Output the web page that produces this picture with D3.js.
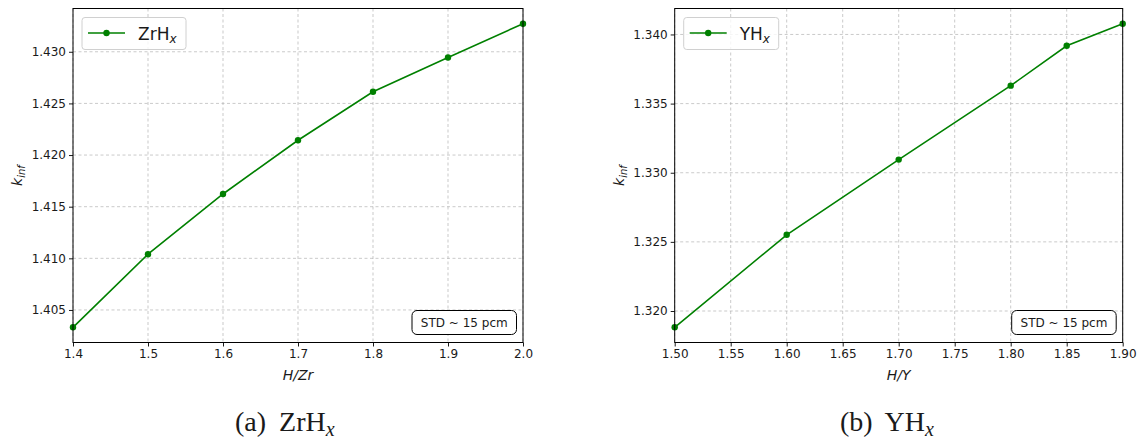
<!DOCTYPE html>
<html>
<head>
<meta charset="utf-8">
<script src="https://cdn.jsdelivr.net/npm/d3@7"></script>
<style>
  html, body { margin: 0; padding: 0; background: #fff; }
  svg { display: block; }
  text { font-family: "DejaVu Sans", sans-serif; fill: #1a1a1a; }
</style>
</head>
<body>
<svg id="fig" width="1141" height="439"></svg>
<script>
// ZrHx: multiplication factor vs hydrogen-to-zirconium ratio
const zrRatio = [1.4, 1.5, 1.6, 1.7, 1.8, 1.9, 2.0];
const zrKinf  = [1.40332, 1.41040, 1.41623, 1.42143, 1.42613, 1.42945, 1.43272];
const zrXTicks = [1.4, 1.5, 1.6, 1.7, 1.8, 1.9, 2.0];
const zrYTicks = [1.405, 1.410, 1.415, 1.420, 1.425, 1.430];

// YHx: multiplication factor vs hydrogen-to-yttrium ratio
const yRatio = [1.50, 1.60, 1.70, 1.80, 1.85, 1.90];
const yKinf  = [1.31882, 1.32551, 1.33095, 1.33630, 1.33918, 1.34078];
const yXTicks = [1.50, 1.55, 1.60, 1.65, 1.70, 1.75, 1.80, 1.85, 1.90];
const yYTicks = [1.320, 1.325, 1.330, 1.335, 1.340];

const svg = d3.select("#fig");
const GREEN = "#008000";

function panel(cfg) {
  const g = svg.append("g");
  const x = d3.scaleLinear().domain(cfg.xDomain).range([cfg.left, cfg.right]);
  const ext = d3.extent(cfg.ys);
  const pad = (ext[1] - ext[0]) * 0.05;
  const y = d3.scaleLinear().domain([ext[0] - pad, ext[1] + pad]).range([cfg.bottom, cfg.top]);

  // dashed grid
  const grid = g.append("g").attr("stroke", "#b0b0b0").attr("stroke-width", 0.8)
    .attr("stroke-dasharray", "3,2.5").attr("stroke-opacity", 0.85);
  cfg.xTicks.forEach(t => grid.append("line")
    .attr("x1", x(t)).attr("x2", x(t)).attr("y1", cfg.top).attr("y2", cfg.bottom));
  cfg.yTicks.forEach(t => grid.append("line")
    .attr("x1", cfg.left).attr("x2", cfg.right).attr("y1", y(t)).attr("y2", y(t)));

  // series
  const pts = cfg.xs.map((v, i) => [v, cfg.ys[i]]);
  g.append("path").datum(pts)
    .attr("fill", "none").attr("stroke", GREEN).attr("stroke-width", 1.6)
    .attr("d", d3.line().x(d => x(d[0])).y(d => y(d[1])));
  g.selectAll("circle.pt").data(pts).enter().append("circle")
    .attr("cx", d => x(d[0])).attr("cy", d => y(d[1])).attr("r", 3.2)
    .attr("fill", GREEN);

  // axes
  const xAxis = d3.axisBottom(x).tickValues(cfg.xTicks).tickFormat(d3.format(cfg.xFmt))
    .tickSizeInner(4).tickSizeOuter(0).tickPadding(3);
  const yAxis = d3.axisLeft(y).tickValues(cfg.yTicks).tickFormat(d3.format(".3f"))
    .tickSizeInner(4).tickSizeOuter(0).tickPadding(3);
  const ax = g.append("g").attr("transform", `translate(0,${cfg.bottom})`).call(xAxis);
  const ay = g.append("g").attr("transform", `translate(${cfg.left},0)`).call(yAxis);
  [ax, ay].forEach(a => {
    a.select(".domain").remove();
    a.selectAll("text").style("font-family", "DejaVu Sans").style("font-size", "12px").attr("fill", "#1a1a1a");
    a.selectAll("line").attr("stroke", "#000").attr("stroke-width", 0.9);
  });

  // frame
  g.append("rect").attr("x", cfg.left).attr("y", cfg.top)
    .attr("width", cfg.right - cfg.left).attr("height", cfg.bottom - cfg.top)
    .attr("fill", "none").attr("stroke", "#000").attr("stroke-width", 1);

  // axis labels
  const xl = g.append("text").attr("x", (cfg.left + cfg.right) / 2).attr("y", 380)
    .attr("text-anchor", "middle").style("font-size", "14px").style("font-style", "italic");
  xl.text(cfg.xLabel);
  const yl = g.append("text")
    .attr("transform", `translate(${cfg.left - 51},${(cfg.top + cfg.bottom) / 2}) rotate(-90)`)
    .attr("text-anchor", "middle").style("font-size", "14px").style("font-style", "italic");
  yl.append("tspan").text("k");
  yl.append("tspan").attr("dy", 3).style("font-size", "10px").text("inf");

  // legend
  const lg = g.append("g").attr("transform", `translate(${cfg.left + 9},${cfg.top + 9})`);
  lg.append("rect").attr("width", cfg.legendW).attr("height", 32).attr("rx", 3)
    .attr("fill", "#fff").attr("fill-opacity", 0.8).attr("stroke", "#d0d0d0");
  lg.append("line").attr("x1", 6).attr("x2", 43).attr("y1", 15.5).attr("y2", 15.5)
    .attr("stroke", GREEN).attr("stroke-width", 1.6);
  lg.append("circle").attr("cx", 24.5).attr("cy", 15.5).attr("r", 3.2).attr("fill", GREEN);
  const lt = lg.append("text").attr("x", 56).attr("y", 22).style("font-size", "17px");
  lt.append("tspan").text(cfg.name);
  lt.append("tspan").attr("dy", 3).style("font-size", "12px").style("font-style", "italic").text("x");

  // note box
  const nb = g.append("g").attr("transform", `translate(${cfg.right - 111},${cfg.bottom - 32})`);
  nb.append("rect").attr("width", 104.5).attr("height", 24).attr("rx", 5)
    .attr("fill", "#fff").attr("stroke", "#000").attr("stroke-width", 1);
  nb.append("text").attr("x", 52.25).attr("y", 16.5).attr("text-anchor", "middle")
    .style("font-size", "12px").text("STD ~ 15 pcm");

  // caption
  const cap = g.append("text").attr("x", cfg.capX).attr("y", 431)
    .style("font-family", "'Liberation Serif', serif").style("font-size", "28px");
  cap.append("tspan").text(cfg.capTag + " ");
  cap.append("tspan").attr("dx", 6).text(cfg.name);
  cap.append("tspan").attr("dy", 5).style("font-size", "20px").style("font-style", "italic").text("x");
}

panel({
  left: 73, right: 523, top: 8.5, bottom: 342.5,
  xDomain: [1.4, 2.0], xs: zrRatio, ys: zrKinf,
  xTicks: zrXTicks, yTicks: zrYTicks, xFmt: ".1f",
  xLabel: "H/Zr", name: "ZrH", legendW: 104, capTag: "(a)", capX: 235
});

panel({
  left: 674.7, right: 1122.7, top: 8.5, bottom: 342.5,
  xDomain: [1.5, 1.9], xs: yRatio, ys: yKinf,
  xTicks: yXTicks, yTicks: yYTicks, xFmt: ".2f",
  xLabel: "H/Y", name: "YH", legendW: 95, capTag: "(b)", capX: 840
});
</script>
</body>
</html>
